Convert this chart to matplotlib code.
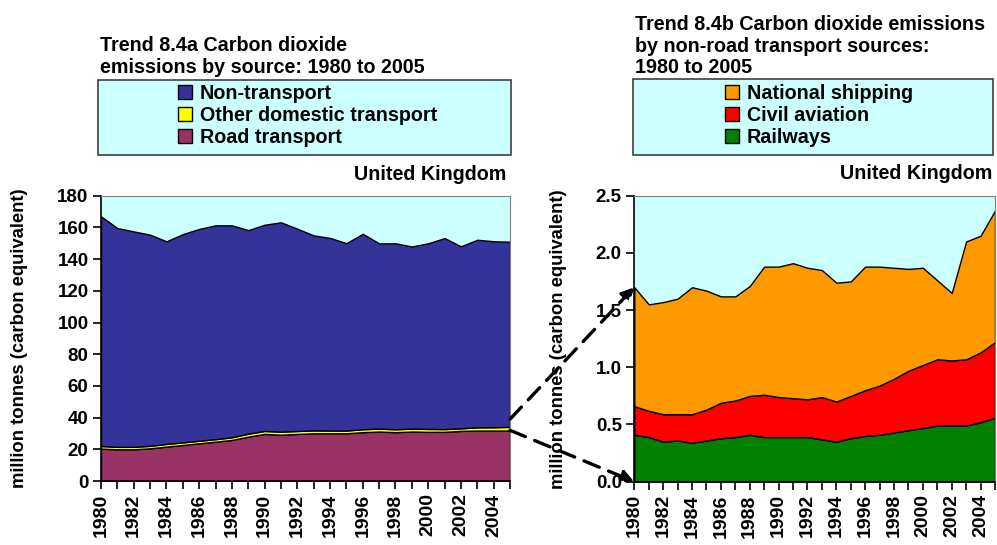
import numpy as np
import matplotlib
matplotlib.use('Agg')
import matplotlib.pyplot as plt
from matplotlib.patches import Rectangle, Patch
from matplotlib.ticker import MultipleLocator, FormatStrFormatter

plt.rcParams['font.family'] = ['Liberation Sans', 'DejaVu Sans']

years = np.arange(1980, 2006)

# Trend 8.4a, million tonnes carbon equivalent
road = [20.4, 20.0, 20.0, 20.6, 21.7, 22.7, 23.8, 24.8, 25.9, 28.0, 29.7, 29.2, 29.7,
        30.1, 30.1, 30.1, 30.8, 31.2, 30.8, 31.2, 31.0, 31.0, 31.6, 31.8, 31.8, 31.8]
otherDomestic = [1.70, 1.55, 1.57, 1.60, 1.70, 1.67, 1.62, 1.62, 1.71, 1.88, 1.88, 1.91, 1.87,
                 1.85, 1.74, 1.75, 1.88, 1.88, 1.87, 1.86, 1.87, 1.76, 1.65, 2.10, 2.15, 2.37]
nonTransport = [144.9, 138.0, 135.9, 133.2, 127.8, 131.4, 133.6, 134.9, 133.7, 128.4, 130.1, 132.1, 127.6,
                123.0, 121.5, 118.2, 123.3, 116.8, 117.3, 114.9, 117.1, 120.5, 114.8, 118.3, 117.3, 116.8]

# Trend 8.4b
railways = [0.41, 0.39, 0.35, 0.36, 0.34, 0.36, 0.38, 0.39, 0.41, 0.39, 0.39, 0.39, 0.39,
            0.37, 0.35, 0.38, 0.40, 0.41, 0.43, 0.45, 0.47, 0.49, 0.49, 0.49, 0.52, 0.56]
aviation = [0.25, 0.23, 0.24, 0.23, 0.25, 0.27, 0.31, 0.32, 0.34, 0.37, 0.35, 0.34, 0.33,
            0.37, 0.35, 0.37, 0.40, 0.43, 0.47, 0.52, 0.55, 0.58, 0.57, 0.58, 0.61, 0.66]
shipping = [1.04, 0.93, 0.98, 1.01, 1.11, 1.04, 0.93, 0.91, 0.96, 1.12, 1.14, 1.18, 1.15,
            1.11, 1.04, 1.00, 1.08, 1.04, 0.97, 0.89, 0.85, 0.69, 0.59, 1.03, 1.02, 1.15]

bgCol = '#CCFFFF'
W, H = 997, 545

fig = plt.figure(figsize=[W / 100, H / 100], dpi=100)

def px(x0, y0, x1, y1):
    # pixel box -> figure fraction rect
    return [x0 / W, 1 - y1 / H, (x1 - x0) / W, (y1 - y0) / H]

def styleAxes(ax, ymax, ystep, fmt, labX):
    ax.set_facecolor(bgCol)
    ax.set_xlim(1980, 2005)
    ax.set_ylim(0, ymax)
    ax.yaxis.set_major_locator(MultipleLocator(ystep))
    ax.yaxis.set_major_formatter(FormatStrFormatter(fmt))
    ax.xaxis.set_major_locator(MultipleLocator(2))
    ax.xaxis.set_minor_locator(MultipleLocator(1))
    ax.tick_params(axis='both', which='both', direction='out', length=6, width=1.2, colors='black')
    ax.tick_params(axis='x', labelrotation=90, labelsize=14, pad=3)
    ax.tick_params(axis='y', labelsize=13.5, pad=3)
    for lab in ax.get_xticklabels() + ax.get_yticklabels():
        lab.set_fontweight('bold')
    for s in ['top', 'right']:
        ax.spines[s].set_color('#808080')
    for s in ['left', 'bottom']:
        ax.spines[s].set_color('black')
        ax.spines[s].set_linewidth(1.2)
    ax.set_ylabel('million tonnes (carbon equivalent)', fontsize=13.3, fontweight='bold')
    ax.yaxis.set_label_coords(labX, 0.5)

ax1 = fig.add_axes(px(101, 195.7, 510, 481))
ax1.stackplot(years, road, otherDomestic, nonTransport,
              colors=['#993366', '#FFFF00', '#333399'], edgecolor='black', linewidth=1)
styleAxes(ax1, 180, 20, '%d', -0.178)

ax2 = fig.add_axes(px(634.3, 195.7, 995, 481.7))
ax2.stackplot(years, railways, aviation, shipping,
              colors=['#008000', '#FF0000', '#FF9900'], edgecolor='black', linewidth=1)
styleAxes(ax2, 2.5, 0.5, '%.1f', -0.187)

# titles
fig.text(100 / W, 1 - 50.7 / H, 'Trend 8.4a Carbon dioxide', fontsize=14.2, fontweight='bold')
fig.text(100 / W, 1 - 72.7 / H, 'emissions by source: 1980 to 2005', fontsize=14.2, fontweight='bold')
fig.text(635 / W, 1 - 30 / H, 'Trend 8.4b Carbon dioxide emissions', fontsize=14.2, fontweight='bold')
fig.text(635 / W, 1 - 51.7 / H, 'by non-road transport sources:', fontsize=14.2, fontweight='bold')
fig.text(635 / W, 1 - 72.7 / H, '1980 to 2005', fontsize=14.2, fontweight='bold')
fig.text(506.7 / W, 1 - 180 / H, 'United Kingdom', fontsize=14.2, fontweight='bold', ha='right')
fig.text(992.7 / W, 1 - 179.3 / H, 'United Kingdom', fontsize=14.2, fontweight='bold', ha='right')

# legend boxes
for (x0, y0, x1, y1) in [(98.3, 80, 510.7, 155), (633, 79.3, 993, 155)]:
    r = Rectangle((x0 / W, 1 - y1 / H), (x1 - x0) / W, (y1 - y0) / H, transform=fig.transFigure,
                  facecolor=bgCol, edgecolor='#404040', linewidth=1.2)
    fig.patches.append(r)

hLeft = [Patch(facecolor=c, edgecolor='black') for c in ['#333399', '#FFFF00', '#993366']]
hRight = [Patch(facecolor=c, edgecolor='black') for c in ['#FF9900', '#FF0000', '#008000']]
legKw = dict(loc='upper left', frameon=False, fontsize=14.2, handlelength=0.7, handleheight=0.7,
             handletextpad=0.4, labelspacing=0.15, borderpad=0, borderaxespad=0)
leg1 = fig.legend(hLeft, ['Non-transport', 'Other domestic transport', 'Road transport'],
                  bbox_to_anchor=(178 / W, 1 - 84 / H), **legKw)
leg2 = fig.legend(hRight, ['National shipping', 'Civil aviation', 'Railways'],
                  bbox_to_anchor=(725 / W, 1 - 84 / H), **legKw)
for leg in [leg1, leg2]:
    for t in leg.get_texts():
        t.set_fontweight('bold')

# dashed arrows from the left chart to the right chart
arrowKw = dict(arrowstyle='-|>', linestyle=(0, (5, 3)), lw=2.4, color='black',
               mutation_scale=18, shrinkA=0, shrinkB=0)
ax2.annotate('', xy=(1980, 1.70), xycoords=ax2.transData,
             xytext=(2005, 39), textcoords=ax1.transData,
             arrowprops=arrowKw, annotation_clip=False)
ax2.annotate('', xy=(1980, 0.0), xycoords=ax2.transData,
             xytext=(2005, 32), textcoords=ax1.transData,
             arrowprops=arrowKw, annotation_clip=False)

plt.savefig('out.png', dpi=100)
